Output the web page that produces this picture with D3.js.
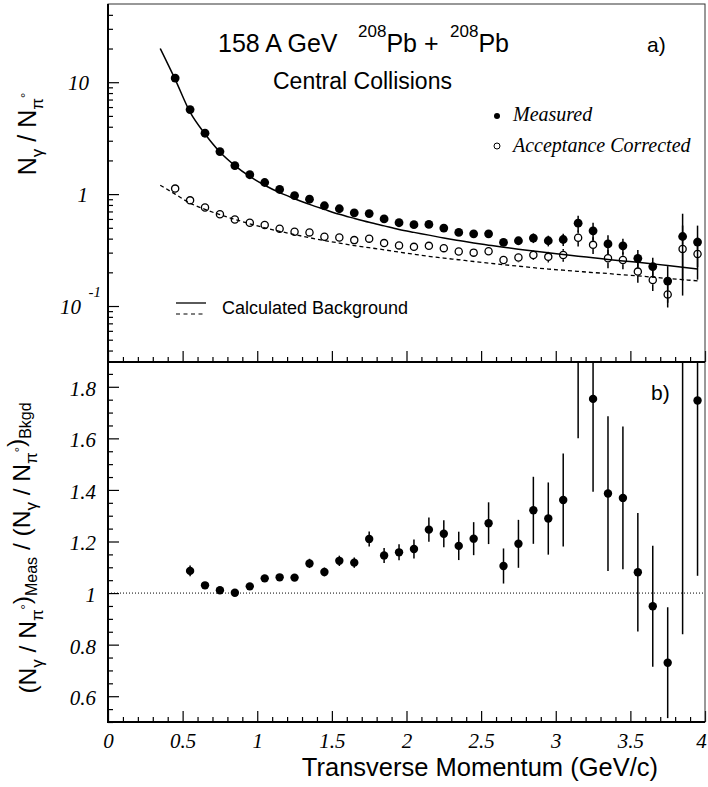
<!DOCTYPE html>
<html>
<head>
<meta charset="utf-8">
<script src="https://cdn.jsdelivr.net/npm/d3@7/dist/d3.min.js"></script>
<style>
  body { margin: 0; background: #fff; }
  svg { display: block; }
  .sans { font-family: "Liberation Sans", Arial, Helvetica, sans-serif; }
  .serif { font-family: "Liberation Serif", "Times New Roman", serif; font-style: italic; }
</style>
</head>
<body>
<svg id="chart" width="708" height="787"></svg>
<script>
// top panel: N_gamma / N_pi0 vs pT
const ptTop = [0.45, 0.55, 0.65, 0.75, 0.85, 0.95, 1.05, 1.15, 1.25, 1.35, 1.45, 1.55, 1.65, 1.75, 1.85, 1.95, 2.05, 2.15,
  2.25, 2.35, 2.45, 2.55, 2.65, 2.75, 2.85, 2.95, 3.05, 3.15, 3.25, 3.35, 3.45, 3.55, 3.65, 3.75, 3.85, 3.95];
const measured = [10.9, 5.7, 3.5, 2.4, 1.8, 1.49, 1.27, 1.10, 0.97, 0.90, 0.787, 0.74, 0.68, 0.67, 0.60, 0.555, 0.533, 0.536,
  0.497, 0.455, 0.442, 0.442, 0.37, 0.383, 0.405, 0.383, 0.393, 0.55, 0.47, 0.359, 0.345, 0.267, 0.225, 0.167, 0.418, 0.373];
const measuredErr = [0.1, 0.06, 0.03, 0.02, 0.015, 0.015, 0.013, 0.012, 0.011, 0.015, 0.012, 0.013, 0.012, 0.016, 0.015, 0.014, 0.017, 0.02,
  0.022, 0.021, 0.024, 0.027, 0.023, 0.03, 0.04, 0.042, 0.05, 0.09, 0.085, 0.07, 0.055, 0.05, 0.045, 0.06, 0.25, 0.15];
const corrected = [1.12, 0.88, 0.76, 0.66, 0.594, 0.555, 0.529, 0.49, 0.461, 0.455, 0.416, 0.41, 0.388, 0.40, 0.365, 0.348, 0.338, 0.345,
  0.329, 0.307, 0.30, 0.309, 0.258, 0.271, 0.286, 0.275, 0.286, 0.407, 0.352, 0.267, 0.258, 0.203, 0.171, 0.127, 0.324, 0.292];
const correctedErr = [0.01, 0.008, 0.006, 0.005, 0.005, 0.006, 0.006, 0.006, 0.007, 0.007, 0.008, 0.009, 0.01, 0.012, 0.012, 0.012, 0.013, 0.015,
  0.015, 0.016, 0.02, 0.02, 0.02, 0.025, 0.028, 0.03, 0.037, 0.067, 0.06, 0.05, 0.045, 0.042, 0.035, 0.03, 0.2, 0.12];

// calculated background curves
const ptCurve = [0.35, 0.45, 0.55, 0.65, 0.75, 0.85, 0.95, 1.05, 1.15, 1.25, 1.35, 1.45, 1.55, 1.65, 1.75, 1.85, 1.95, 2.05, 2.15,
  2.25, 2.35, 2.45, 2.55, 2.65, 2.75, 2.85, 2.95, 3.05, 3.15, 3.25, 3.35, 3.45, 3.55, 3.65, 3.75, 3.85, 3.95];
const bkgdMeasured = [20, 10.6, 5.4, 3.45, 2.38, 1.80, 1.44, 1.2, 1.03, 0.91, 0.81, 0.73, 0.66, 0.607, 0.56, 0.52, 0.483, 0.455, 0.43,
  0.405, 0.385, 0.366, 0.35, 0.335, 0.322, 0.31, 0.299, 0.289, 0.279, 0.27, 0.261, 0.253, 0.246, 0.238, 0.23, 0.222, 0.214];
const bkgdCorrected = [1.2, 1.0, 0.83, 0.73, 0.655, 0.595, 0.543, 0.50, 0.465, 0.435, 0.408, 0.385, 0.365, 0.347, 0.332, 0.318, 0.303, 0.29, 0.278,
  0.268, 0.259, 0.25, 0.242, 0.234, 0.227, 0.22, 0.214, 0.209, 0.204, 0.199, 0.195, 0.19, 0.186, 0.181, 0.176, 0.172, 0.168];

// bottom panel: ratio measured / background
const ptRatio = [0.55, 0.65, 0.75, 0.85, 0.95, 1.05, 1.15, 1.25, 1.35, 1.45, 1.55, 1.65, 1.75, 1.85, 1.95, 2.05, 2.15,
  2.25, 2.35, 2.45, 2.55, 2.65, 2.75, 2.85, 2.95, 3.05, 3.15, 3.25, 3.35, 3.45, 3.55, 3.65, 3.75, 3.85, 3.95];
const ratio = [1.086, 1.030, 1.011, 1.001, 1.026, 1.057, 1.061, 1.060, 1.115, 1.082, 1.125, 1.118, 1.210, 1.146, 1.158, 1.171, 1.246,
  1.230, 1.183, 1.211, 1.271, 1.105, 1.191, 1.321, 1.289, 1.361, 2.2, 1.753, 1.386, 1.369, 1.081, 0.949, 0.730, 1.94, 1.747];
const ratioErr = [0.021, 0.01, 0.008, 0.008, 0.01, 0.012, 0.012, 0.012, 0.018, 0.017, 0.02, 0.02, 0.029, 0.029, 0.031, 0.037, 0.047,
  0.052, 0.055, 0.064, 0.081, 0.068, 0.093, 0.13, 0.14, 0.18, 0.6, 0.36, 0.30, 0.277, 0.23, 0.235, 0.215, 1.1, 0.68];

const xTicks = [0, 0.5, 1, 1.5, 2, 2.5, 3, 3.5, 4];
const xTickLabels = ['0', '0.5', '1', '1.5', '2', '2.5', '3', '3.5', '4'];
const yTopTicks = [10, 1, 0.1];
const yBotTicks = [0.6, 0.8, 1, 1.2, 1.4, 1.6, 1.8];
const yBotTickLabels = ['0.6', '0.8', '1', '1.2', '1.4', '1.6', '1.8'];

const svg = d3.select('#chart');
const xLeft = 108, xRight = 705, yEdge = 4, yMid = 362, yBottom = 722;

const x = d3.scaleLinear().domain([0, 4]).range([xLeft, xRight]);
const yTop = d3.scaleLog().domain([0.0316, 50]).range([yMid, yEdge]);
const yBot = d3.scaleLinear().domain([0.5, 1.9]).range([yBottom, yMid - 1]);

const defs = svg.append('defs');
defs.append('clipPath').attr('id', 'clipTop')
  .append('rect').attr('x', xLeft).attr('y', yEdge).attr('width', xRight - xLeft).attr('height', yMid - yEdge);
defs.append('clipPath').attr('id', 'clipBot')
  .append('rect').attr('x', xLeft).attr('y', yMid).attr('width', xRight - xLeft).attr('height', yBottom - yMid);

// ---------- axes / ticks ----------
const xMinor = d3.range(0, 41).map(d => d / 10).filter(d => Math.round(d * 10) % 5 !== 0);

function xTicksAt(y0, withLabels) {
  const g = svg.append('g').attr('transform', `translate(0,${y0})`);
  g.append('g').call(d3.axisBottom(x).tickValues(xMinor).tickSize(-5).tickFormat(''))
    .call(s => s.select('.domain').remove());
  const major = g.append('g').call(d3.axisBottom(x).tickValues(xTicks).tickSize(-11)
    .tickFormat((d, i) => withLabels ? xTickLabels[i] : ''))
    .call(s => s.select('.domain').remove());
  major.selectAll('text').attr('class', 'serif').attr('font-size', 21).attr('dy', null)
    .attr('y', 26).attr('x', d => d === 4 ? -4 : 0);
}
xTicksAt(yMid, false);
xTicksAt(yBottom, true);

// top panel log y axis
const logMinor = [];
[0.01, 0.1, 1, 10].forEach(dec => d3.range(2, 10).forEach(k => {
  const v = dec * k;
  if (v > 0.0316 && v < 50) logMinor.push(v);
}));
const gTopY = svg.append('g').attr('transform', `translate(${xLeft},0)`);
gTopY.append('g').call(d3.axisLeft(yTop).tickValues(logMinor).tickSize(-5).tickFormat(''))
  .call(s => s.select('.domain').remove());
gTopY.append('g').call(d3.axisLeft(yTop).tickValues(yTopTicks).tickSize(-11).tickFormat(''))
  .call(s => s.select('.domain').remove());

const topLabels = svg.append('g').attr('class', 'serif').attr('font-size', 21).attr('text-anchor', 'end');
topLabels.append('text').attr('x', 89).attr('y', yTop(10) + 8).text('10');
topLabels.append('text').attr('x', 88).attr('y', yTop(1) + 8).text('1');
topLabels.append('text').attr('x', 81).attr('y', yTop(0.1) + 8).text('10');
topLabels.append('text').attr('x', 101).attr('y', yTop(0.1) - 9).attr('font-size', 15).text('-1');

// bottom panel y axis
const gBotY = svg.append('g').attr('transform', `translate(${xLeft},0)`);
gBotY.append('g').call(d3.axisLeft(yBot).tickValues(d3.range(10, 38).map(d => d / 20)
    .filter(d => Math.round(d * 20) % 4 !== 0)).tickSize(-5).tickFormat(''))
  .call(s => s.select('.domain').remove());
gBotY.append('g').call(d3.axisLeft(yBot).tickValues(yBotTicks).tickSize(-11).tickPadding(12)
    .tickFormat((d, i) => yBotTickLabels[i]))
  .call(s => s.select('.domain').remove())
  .selectAll('text').attr('class', 'serif').attr('font-size', 21).attr('dy', '0.4em');

svg.selectAll('.tick line').attr('stroke', '#000').attr('stroke-width', 1.2);

// frames
svg.append('rect').attr('x', xLeft).attr('y', yEdge).attr('width', xRight - xLeft).attr('height', yBottom - yEdge)
  .attr('fill', 'none').attr('stroke', '#333').attr('stroke-width', 1);
svg.append('line').attr('x1', xLeft).attr('x2', xLeft).attr('y1', yEdge).attr('y2', yBottom + 1)
  .attr('stroke', '#000').attr('stroke-width', 2);
svg.append('line').attr('x1', xLeft - 1).attr('x2', xRight).attr('y1', yMid).attr('y2', yMid)
  .attr('stroke', '#000').attr('stroke-width', 2);
svg.append('line').attr('x1', xLeft - 1).attr('x2', xRight).attr('y1', yBottom).attr('y2', yBottom)
  .attr('stroke', '#000').attr('stroke-width', 2);

// ---------- top panel data ----------
const plotTop = svg.append('g').attr('clip-path', 'url(#clipTop)');

const curve = d3.line().x((d, i) => x(ptCurve[i])).y(d => yTop(d)).curve(d3.curveMonotoneX);
plotTop.append('path').attr('d', curve(bkgdMeasured))
  .attr('fill', 'none').attr('stroke', '#000').attr('stroke-width', 1.5);
plotTop.append('path').attr('d', curve(bkgdCorrected))
  .attr('fill', 'none').attr('stroke', '#000').attr('stroke-width', 1.3).attr('stroke-dasharray', '4,3');

function errorBars(g, xs, vals, errs, yScale, gap) {
  xs.forEach((px, i) => {
    const cx = x(px), cy = yScale(vals[i]);
    const hi = yScale(vals[i] + errs[i]), lo = yScale(Math.max(vals[i] - errs[i], 1e-3));
    if (cy - gap > hi) g.append('line').attr('x1', cx).attr('x2', cx).attr('y1', hi).attr('y2', cy - gap);
    if (lo > cy + gap) g.append('line').attr('x1', cx).attr('x2', cx).attr('y1', cy + gap).attr('y2', lo);
  });
  g.attr('stroke', '#000').attr('stroke-width', 1.5);
}

errorBars(plotTop.append('g'), ptTop, corrected, correctedErr, yTop, 4.2);
errorBars(plotTop.append('g'), ptTop, measured, measuredErr, yTop, 0);

plotTop.append('g').selectAll('circle').data(corrected).join('circle')
  .attr('cx', (d, i) => x(ptTop[i])).attr('cy', d => yTop(d)).attr('r', 3.6)
  .attr('fill', 'none').attr('stroke', '#000').attr('stroke-width', 1.3);
plotTop.append('g').selectAll('circle').data(measured).join('circle')
  .attr('cx', (d, i) => x(ptTop[i])).attr('cy', d => yTop(d)).attr('r', 4.4).attr('fill', '#000');

// ---------- bottom panel data ----------
const plotBot = svg.append('g').attr('clip-path', 'url(#clipBot)');
plotBot.append('line').attr('x1', x(0)).attr('x2', x(4)).attr('y1', yBot(1)).attr('y2', yBot(1))
  .attr('stroke', '#000').attr('stroke-width', 1).attr('stroke-dasharray', '1,2');
errorBars(plotBot.append('g'), ptRatio, ratio, ratioErr, yBot, 0);
plotBot.append('g').selectAll('circle').data(ratio).join('circle')
  .attr('cx', (d, i) => x(ptRatio[i])).attr('cy', d => yBot(d)).attr('r', 4.2).attr('fill', '#000');

// ---------- texts ----------
const title = svg.append('text').attr('class', 'sans').attr('y', 52).attr('font-size', 25);
title.append('tspan').attr('x', 218).text('158 A GeV');
title.append('tspan').attr('x', 358).attr('font-size', 17).attr('dy', -15).text('208');
title.append('tspan').attr('dy', 15).text('Pb +');
title.append('tspan').attr('x', 450).attr('font-size', 17).attr('dy', -15).text('208');
title.append('tspan').attr('dy', 15).text('Pb');

svg.append('text').attr('class', 'sans').attr('x', 273).attr('y', 89).attr('font-size', 23).text('Central Collisions');
svg.append('text').attr('class', 'sans').attr('x', 647).attr('y', 52).attr('font-size', 21).text('a)');
svg.append('text').attr('class', 'sans').attr('x', 651).attr('y', 400).attr('font-size', 21).text('b)');

// legend: markers
svg.append('circle').attr('cx', 497).attr('cy', 116).attr('r', 3).attr('fill', '#000');
svg.append('circle').attr('cx', 497).attr('cy', 146).attr('r', 3).attr('fill', 'none')
  .attr('stroke', '#000').attr('stroke-width', 1);
svg.append('text').attr('class', 'serif').attr('x', 513).attr('y', 121).attr('font-size', 20).text('Measured');
svg.append('text').attr('class', 'serif').attr('x', 513).attr('y', 152).attr('font-size', 20).text('Acceptance Corrected');

// legend: lines
svg.append('line').attr('x1', 176).attr('x2', 206).attr('y1', 303).attr('y2', 303)
  .attr('stroke', '#000').attr('stroke-width', 1.3);
svg.append('line').attr('x1', 176).attr('x2', 206).attr('y1', 314).attr('y2', 314)
  .attr('stroke', '#000').attr('stroke-width', 1.2).attr('stroke-dasharray', '4,3.5');
svg.append('text').attr('class', 'sans').attr('x', 222).attr('y', 314).attr('font-size', 18).text('Calculated Background');

// axis titles
svg.append('text').attr('class', 'sans').attr('x', 658).attr('y', 776).attr('font-size', 25.5)
  .attr('text-anchor', 'end').text('Transverse Momentum (GeV/c)');

function ratioTerm(t) {
  t.append('tspan').text('N');
  t.append('tspan').attr('font-size', 17).attr('dy', 7).text('γ');
  t.append('tspan').attr('dy', -7).text(' / N');
  t.append('tspan').attr('font-size', 17).attr('dy', 7).text('π');
  t.append('tspan').attr('font-size', 13).attr('dy', -13).text('°');
  t.append('tspan').attr('dy', 6).text('');
}

const yTitleTop = svg.append('text').attr('class', 'sans').attr('font-size', 25).attr('text-anchor', 'middle')
  .attr('transform', 'translate(36,134) rotate(-90)');
ratioTerm(yTitleTop);

const yTitleBot = svg.append('text').attr('class', 'sans').attr('font-size', 24.5).attr('text-anchor', 'middle')
  .attr('transform', 'translate(36,548) rotate(-90)');
yTitleBot.append('tspan').text('(');
ratioTerm(yTitleBot);
yTitleBot.append('tspan').text(')');
yTitleBot.append('tspan').attr('font-size', 16).attr('dy', 7).text('Meas');
yTitleBot.append('tspan').attr('dy', -7).text(' / (');
ratioTerm(yTitleBot);
yTitleBot.append('tspan').text(')');
yTitleBot.append('tspan').attr('font-size', 16).attr('dy', 7).text('Bkgd');
</script>
